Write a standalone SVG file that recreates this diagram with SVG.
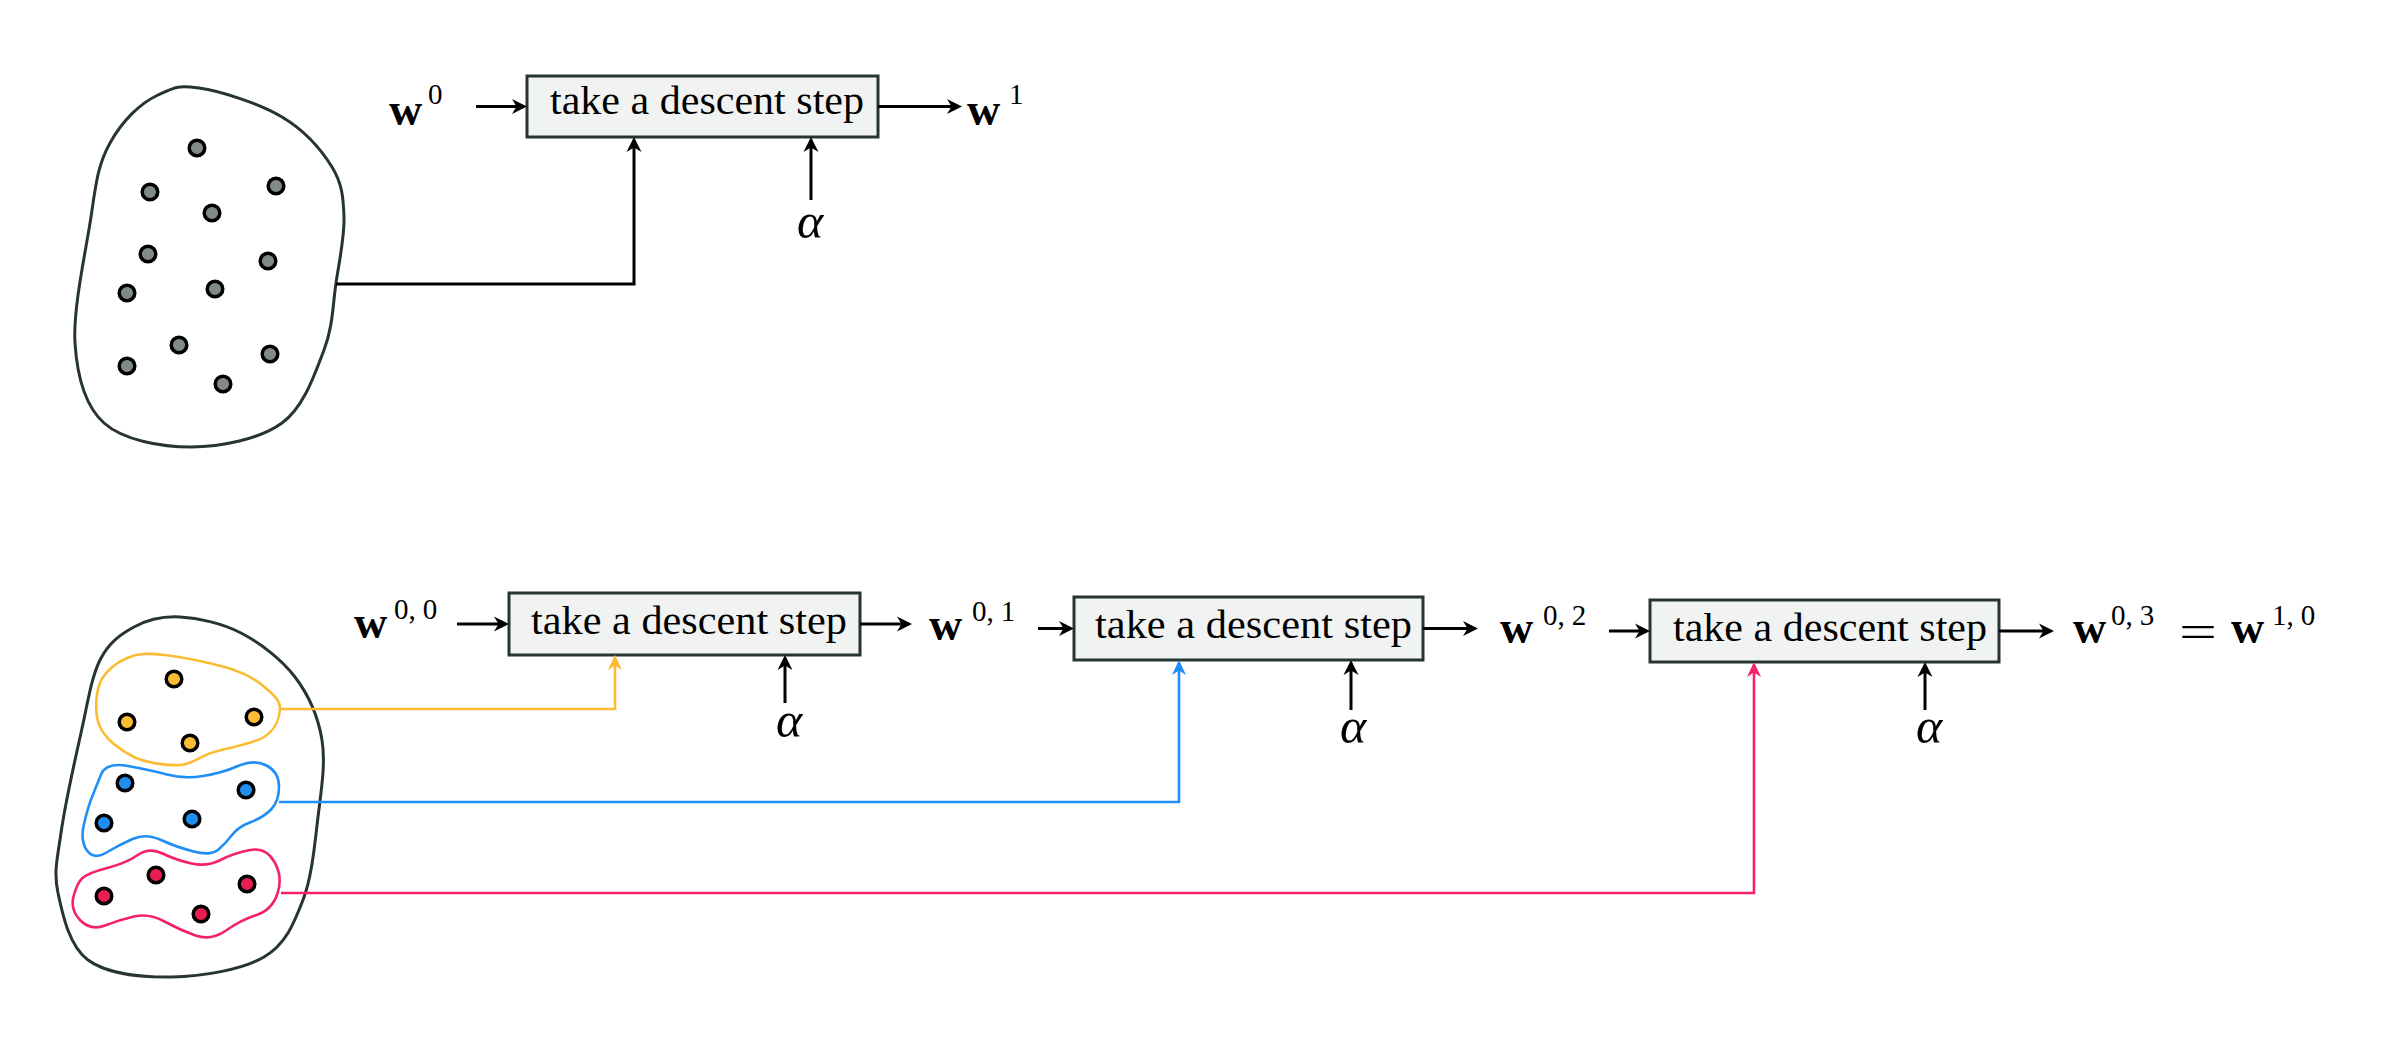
<svg xmlns="http://www.w3.org/2000/svg" width="2386" height="1054" viewBox="0 0 2386 1054">
<style>
.bg{fill:#ffffff}
.box{fill:#f1f3f2;stroke:#263532;stroke-width:3}
.blob{fill:none;stroke:#263532;stroke-width:3}
.txt{font-family:"Liberation Serif",serif;font-size:39px;fill:#000}
.wb{font-family:"Liberation Serif",serif;font-weight:bold;font-size:46px;fill:#000}
.sup{font-family:"Liberation Serif",serif;font-size:29px;fill:#000}
.al{font-family:"Liberation Serif",serif;font-style:italic;font-size:50px;text-anchor:middle;fill:#000}
.blk{stroke:#000;stroke-width:3;fill:none}
.dot{stroke:#000;stroke-width:3.5}
.gray{fill:#808a86}
.yel{fill:#fbbd33}
.blu{fill:#1e8ff0}
.red{fill:#ea1d50}
.ly{fill:none;stroke:#fbbc33;stroke-width:2.6}
.lb{fill:none;stroke:#1f8ff5;stroke-width:2.6}
.lr{fill:none;stroke:#f5206e;stroke-width:2.6}
</style>
<defs>
<marker id="ak" markerUnits="userSpaceOnUse" markerWidth="30" markerHeight="30" refX="-3" refY="0" orient="auto" overflow="visible"><path d="M0,0 L-15,-7.5 L-10.5,0 L-15,7.5 Z" fill="#000"/></marker>
<marker id="ay" markerUnits="userSpaceOnUse" markerWidth="30" markerHeight="30" refX="-3" refY="0" orient="auto" overflow="visible"><path d="M0,0 L-15,-7 L-10.5,0 L-15,7 Z" fill="#fbbc33"/></marker>
<marker id="ab" markerUnits="userSpaceOnUse" markerWidth="30" markerHeight="30" refX="-3" refY="0" orient="auto" overflow="visible"><path d="M0,0 L-15,-7 L-10.5,0 L-15,7 Z" fill="#1f8ff5"/></marker>
<marker id="ar" markerUnits="userSpaceOnUse" markerWidth="30" markerHeight="30" refX="-3" refY="0" orient="auto" overflow="visible"><path d="M0,0 L-15,-7 L-10.5,0 L-15,7 Z" fill="#f5206e"/></marker>
</defs>
<rect class="bg" x="0" y="0" width="2386" height="1054"/>

<!-- top data set -->
<g id="data-full">
<path class="blob" d="M199,88 C220.3,90.8 259.8,103.8 282,117 C304.2,130.2 321.7,150.3 332,167 C342.3,183.7 343.3,197.7 344,217 C344.7,236.3 339.3,260.8 336,283 C332.7,305.2 333,326.7 324,350 C315,373.3 304.2,406.8 282,423 C259.8,439.2 220.7,447 191,447 C161.3,447 123.3,440.3 104,423 C84.7,405.7 77.2,377.3 75,343 C72.8,308.7 86.2,249.2 91,217 C95.8,184.8 97.5,165.5 110,143 C122.5,120.5 140.2,103.3 158,95 C175.8,86.7 177.7,85.2 199,88 Z"/>
<g class="dot gray">
<circle cx="197" cy="148" r="7.8"/><circle cx="150" cy="192" r="7.8"/><circle cx="276" cy="186" r="7.8"/>
<circle cx="212" cy="213" r="7.8"/><circle cx="148" cy="254" r="7.8"/><circle cx="268" cy="261" r="7.8"/>
<circle cx="127" cy="293" r="7.8"/><circle cx="215" cy="289" r="7.8"/><circle cx="179" cy="345" r="7.8"/>
<circle cx="127" cy="366" r="7.8"/><circle cx="270" cy="354" r="7.8"/><circle cx="223" cy="384" r="7.8"/>
</g>
</g>

<g id="step-top">
<rect class="box" x="527" y="76" width="351" height="61"/>
<text class="txt" x="550" y="114" textLength="314" lengthAdjust="spacingAndGlyphs">take a descent step</text>
</g>
<g id="label-w0"><text class="wb" x="389" y="125">w</text><text class="sup" x="428" y="104">0</text></g>
<g id="label-w1"><text class="wb" x="967" y="125">w</text><text class="sup" x="1009" y="104">1</text></g>
<g id="label-alpha-top"><text class="al" x="810" y="238">α</text></g>

<!-- bottom data set -->
<g id="data-batches">
<path class="blob" d="M180,617 C197.8,618 221.8,623 241,633 C260.2,643 281.5,659.2 295,677 C308.5,694.8 318.2,716.7 322,740 C325.8,763.3 321.2,790.3 318,817 C314.8,843.7 312,876.7 303,900 C294,923.3 285.8,944.2 264,957 C242.2,969.8 201.3,976.5 172,977 C142.7,977.5 107,974 88,960 C69,946 62.5,914.2 58,893 C53.5,871.8 57.2,859.7 61,833 C64.8,806.3 74.5,761.8 81,733 C87.5,704.2 91.2,677.7 100,660 C108.8,642.3 120.7,634.2 134,627 C147.3,619.8 162.2,616 180,617 Z"/>
<g id="batch-1">
<path class="ly" d="M165,655 C182.8,657 216.8,664.2 234,670 C251.2,675.8 260.3,683.3 268,690 C275.7,696.7 280.7,702.2 280,710 C279.3,717.8 275.5,729.8 264,737 C252.5,744.2 225,748.3 211,753 C197,757.7 192.8,764.3 180,765 C167.2,765.7 147.3,763.3 134,757 C120.7,750.7 105.7,739.3 100,727 C94.3,714.7 95.5,694.5 100,683 C104.5,671.5 116.2,662.7 127,658 C137.8,653.3 147.2,653 165,655 Z"/>
<g class="dot yel">
<circle cx="174" cy="679" r="7.8"/><circle cx="127" cy="722" r="7.8"/><circle cx="254" cy="717" r="7.8"/><circle cx="190" cy="743" r="7.8"/>
</g>
</g>
<g id="batch-2">
<path class="lb" d="M101,774.5 Q106,762 128,766 Q150,770 167,774.5 Q184,779 203,776 Q222,773 238,766 Q254,759 266.5,765.5 Q279,772 279,786.5 Q279,801 271.5,809 Q264,817 251,822 Q238,827 232,835 Q226,843 218.5,849.5 Q211,856 193.5,851.5 Q176,847 161,840 Q146,833 132.5,839 Q119,845 106.5,852.5 Q94,860 87,850.5 Q80,841 84,824 Q88,807 92,797 Q96,787 101,774.5 Z"/>
<g class="dot blu">
<circle cx="125" cy="783" r="7.8"/><circle cx="246" cy="790" r="7.8"/><circle cx="104" cy="823" r="7.8"/><circle cx="192" cy="819" r="7.8"/>
</g>
</g>
<g id="batch-3">
<path class="lr" d="M82.5,878 Q88,873 107.3,868 Q126.5,863 137.8,855 Q149,847 162.5,853.5 Q176,860 191.5,863.5 Q207,867 220.5,860 Q234,853 250,850 Q266,847 274.5,862 Q283,877 277.5,893.5 Q272,910 256.5,915 Q241,920 226,930.5 Q211,941 195.5,935.5 Q180,930 164.5,921.5 Q149,913 134,916.5 Q119,920 105,925.5 Q91,931 80.5,920.5 Q70,910 73.5,896.5 Q77,883 82.5,878 Z"/>
<g class="dot red">
<circle cx="156" cy="875" r="7.8"/><circle cx="104" cy="896" r="7.8"/><circle cx="247" cy="884" r="7.8"/><circle cx="201" cy="914" r="7.8"/>
</g>
</g>
</g>

<g id="step-1">
<rect class="box" x="509" y="593" width="351" height="62"/>
<text class="txt" x="531" y="634" textLength="316" lengthAdjust="spacingAndGlyphs">take a descent step</text>
</g>
<g id="step-2">
<rect class="box" x="1074" y="597" width="349" height="63"/>
<text class="txt" x="1095" y="638" textLength="317" lengthAdjust="spacingAndGlyphs">take a descent step</text>
</g>
<g id="step-3">
<rect class="box" x="1650" y="600" width="349" height="62"/>
<text class="txt" x="1673" y="641" textLength="314" lengthAdjust="spacingAndGlyphs">take a descent step</text>
</g>

<g id="label-w00"><text class="wb" x="354" y="638">w</text><text class="sup" x="394" y="619">0,<tspan dx="7">0</tspan></text></g>
<g id="label-w01"><text class="wb" x="929" y="640">w</text><text class="sup" x="972" y="621">0,<tspan dx="7">1</tspan></text></g>
<g id="label-w02"><text class="wb" x="1500" y="643">w</text><text class="sup" x="1543" y="625">0,<tspan dx="7">2</tspan></text></g>
<g id="label-w03">
<text class="wb" x="2073" y="643">w</text><text class="sup" x="2111" y="625">0,<tspan dx="7">3</tspan></text>
<text class="wb" style="font-weight:normal" x="2179" y="647" textLength="38" lengthAdjust="spacingAndGlyphs">=</text>
<text class="wb" x="2231" y="643">w</text><text class="sup" x="2272" y="625">1,<tspan dx="7">0</tspan></text>
</g>
<g id="label-alpha-1"><text class="al" x="789" y="737">α</text></g>
<g id="label-alpha-2"><text class="al" x="1353" y="743">α</text></g>
<g id="label-alpha-3"><text class="al" x="1929" y="743">α</text></g>

<g id="connectors">
<line class="blk" x1="476" y1="106.5" x2="524" y2="106.5" marker-end="url(#ak)"/>
<line class="blk" x1="878" y1="106.5" x2="959" y2="106.5" marker-end="url(#ak)"/>
<line class="blk" x1="811" y1="200" x2="811" y2="140" marker-end="url(#ak)"/>
<path class="blk" d="M336,284 H634 V140" marker-end="url(#ak)"/>

<line class="blk" x1="457" y1="624" x2="506" y2="624" marker-end="url(#ak)"/>
<line class="blk" x1="860" y1="624" x2="909" y2="624" marker-end="url(#ak)"/>
<line class="blk" x1="1038" y1="628.5" x2="1071" y2="628.5" marker-end="url(#ak)"/>
<line class="blk" x1="1423" y1="628.5" x2="1475" y2="628.5" marker-end="url(#ak)"/>
<line class="blk" x1="1609" y1="631" x2="1647" y2="631" marker-end="url(#ak)"/>
<line class="blk" x1="1999" y1="631" x2="2051" y2="631" marker-end="url(#ak)"/>
<line class="blk" x1="785" y1="703" x2="785" y2="658" marker-end="url(#ak)"/>
<line class="blk" x1="1351" y1="710" x2="1351" y2="663" marker-end="url(#ak)"/>
<line class="blk" x1="1925" y1="710" x2="1925" y2="665" marker-end="url(#ak)"/>

<path class="ly" d="M280,709 H615 V658" marker-end="url(#ay)"/>
<path class="lb" d="M279,802 H1179 V663" marker-end="url(#ab)"/>
<path class="lr" d="M281,893 H1754 V665" marker-end="url(#ar)"/>
</g>
</svg>
